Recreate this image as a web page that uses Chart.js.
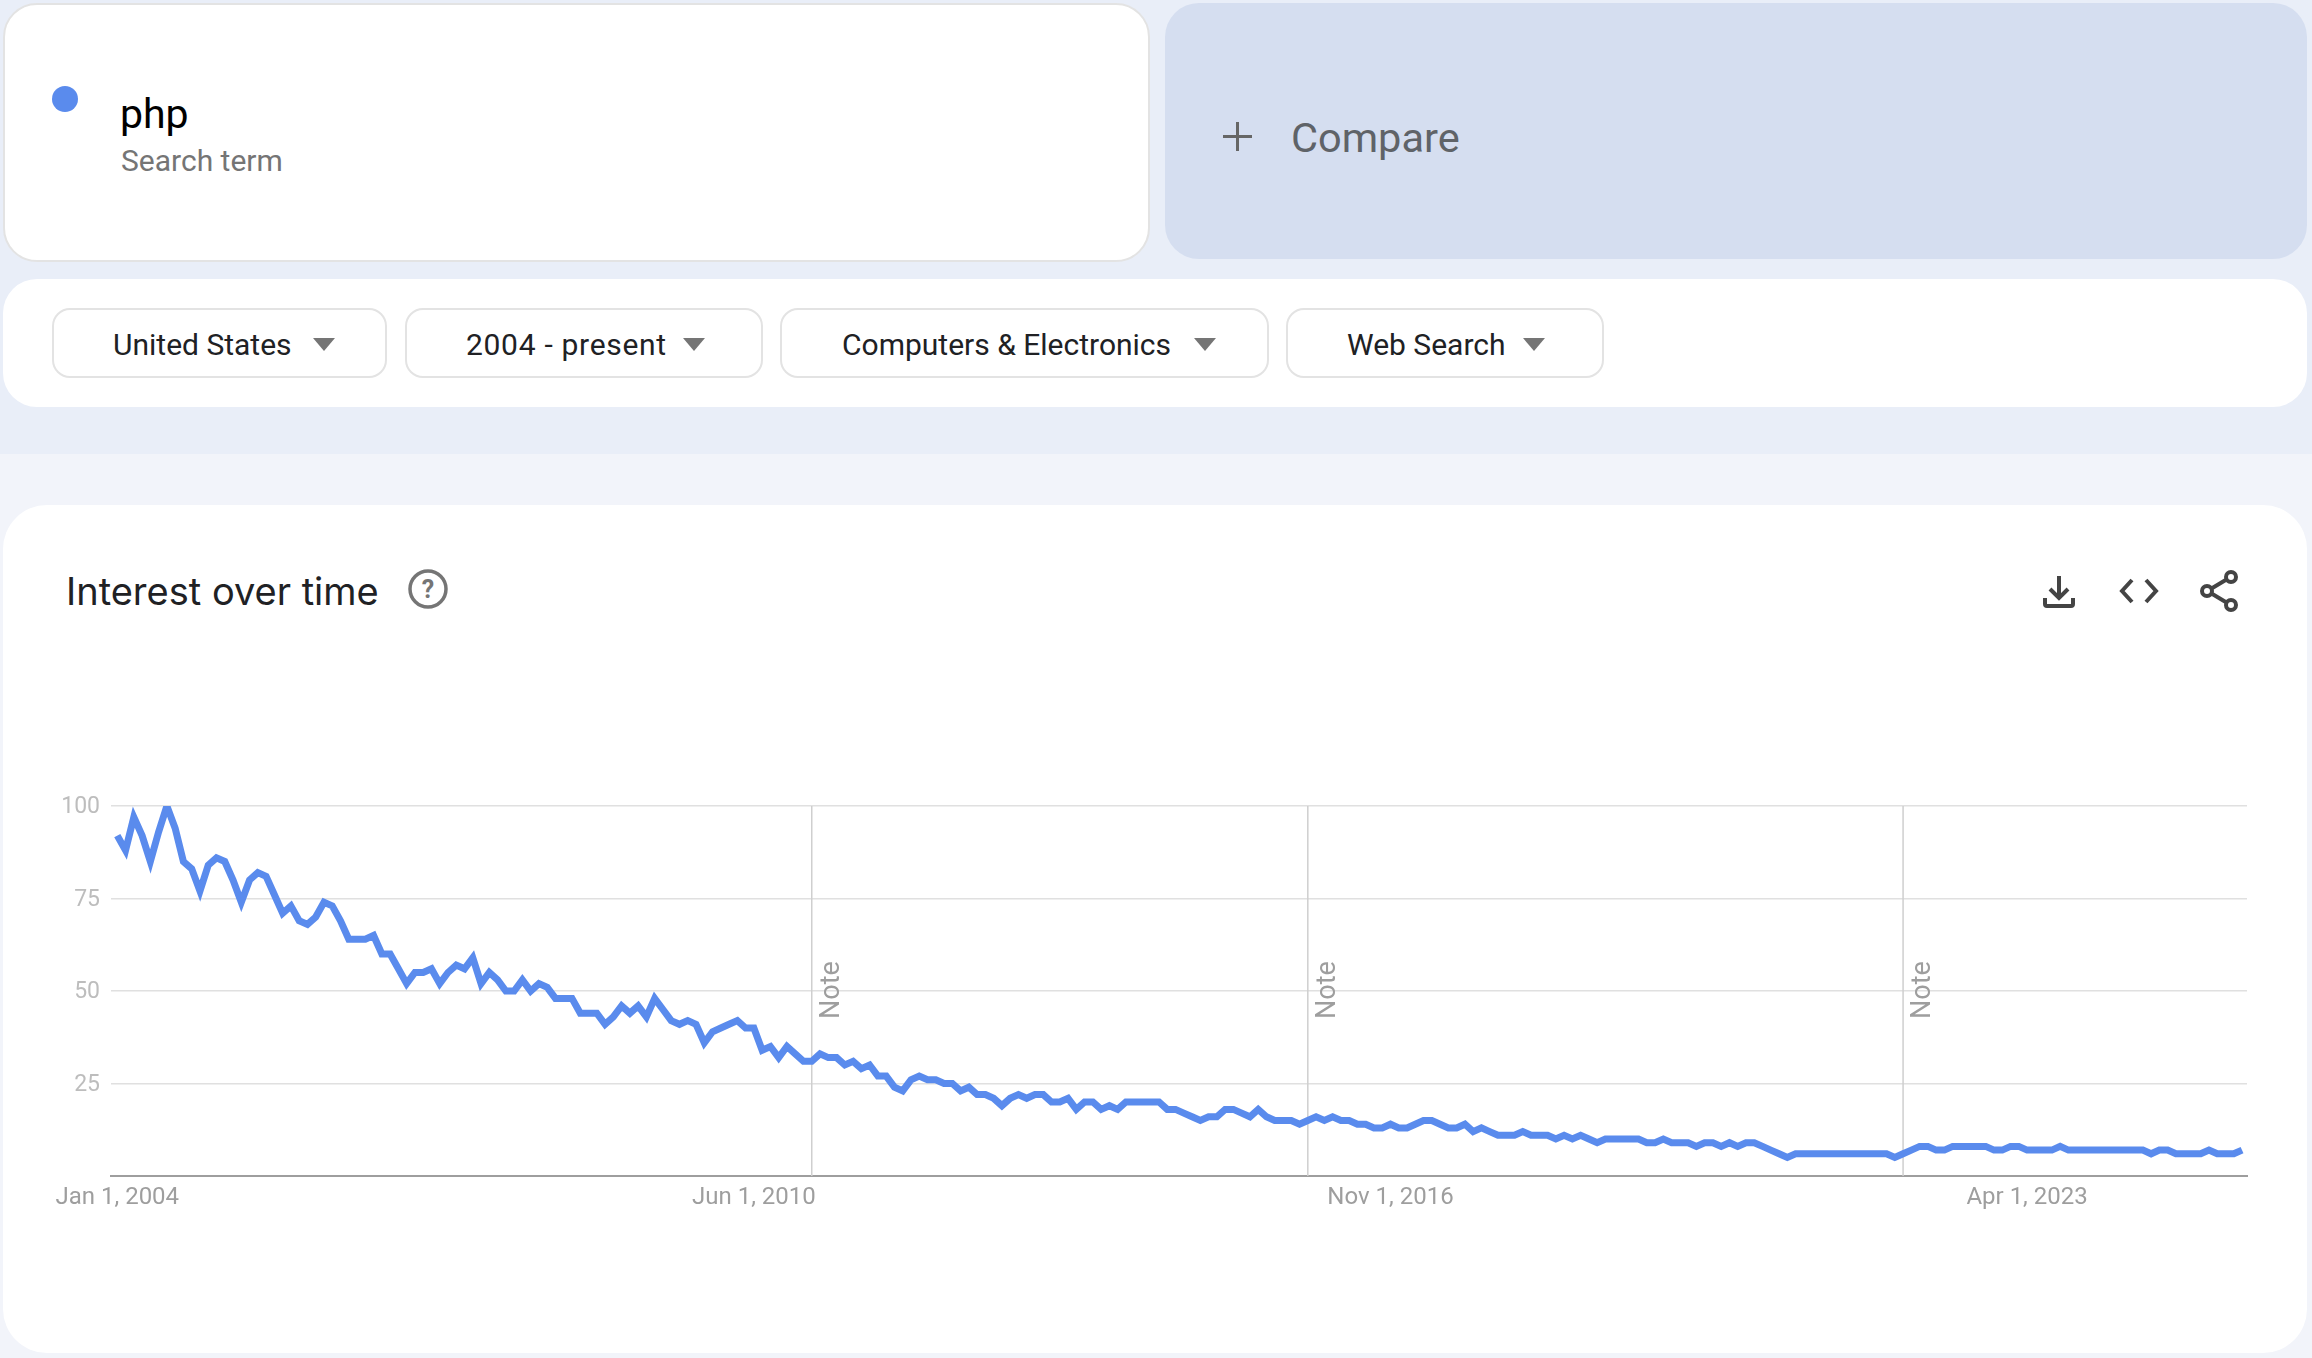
<!DOCTYPE html>
<html>
<head>
<meta charset="utf-8">
<title>php - Interest over time</title>
<script src="https://cdn.jsdelivr.net/npm/chart.js@4"></script>
<style>
  html, body { margin: 0; padding: 0; }
  body { width: 2312px; height: 1358px; position: relative; overflow: hidden; background: #f2f4fa; font-family: Roboto, sans-serif; }
  .top-bg { position: absolute; left: 0; top: 0; width: 2312px; height: 454px; background: #e9eef8; }
  .card { position: absolute; background: #fff; box-sizing: border-box; }
  .abs { position: absolute; white-space: nowrap; line-height: 1; }
  .pill { position: absolute; top: 308px; height: 70px; box-sizing: border-box; background: #fff; border: 2px solid #e3e3e3; border-radius: 18px; }
  .pill span { position: absolute; top: 18px; font-size: 30px; line-height: 34px; color: #202124; white-space: nowrap; }
  .tri { position: absolute; top: 28px; width: 0; height: 0; border-left: 11px solid transparent; border-right: 11px solid transparent; border-top: 13px solid #757575; }
  #chartWrap { position: absolute; left: 0; top: 780px; width: 2312px; height: 440px; }
</style>
</head>
<body>
<div class="top-bg"></div>

<div class="card" style="left:3px;top:3px;width:1147px;height:259px;border-radius:34px;border:2px solid #e3e3e3"></div>
<div class="abs" style="left:52px;top:86px;width:26px;height:26px;border-radius:50%;background:#5a8bed"></div>
<div class="abs" style="left:120px;top:94px;font-size:41px;color:#000">php</div>
<div class="abs" style="left:121px;top:146px;font-size:30px;color:#757575">Search term</div>

<div class="card" style="left:1165px;top:3px;width:1142px;height:256px;border-radius:34px;background:#d5def0"></div>
<div class="abs" style="left:1223px;top:135px;width:29px;height:3px;background:#666"></div>
<div class="abs" style="left:1236px;top:122px;width:3px;height:29px;background:#666"></div>
<div class="abs" style="left:1291px;top:117px;font-size:41.500px;color:#5f6368">Compare</div>

<div class="card" style="left:3px;top:279px;width:2304px;height:128px;border-radius:34px"></div>
<div class="pill" style="left:52px;width:335px"><span style="left:59px">United States</span><div class="tri" style="left:259px"></div></div>
<div class="pill" style="left:405px;width:358px"><span style="left:59px;letter-spacing:0.7px">2004 - present</span><div class="tri" style="left:276px"></div></div>
<div class="pill" style="left:780px;width:489px"><span style="left:60px">Computers &amp; Electronics</span><div class="tri" style="left:412px"></div></div>
<div class="pill" style="left:1286px;width:318px"><span style="left:59px">Web Search</span><div class="tri" style="left:235px"></div></div>

<div class="card" style="left:3px;top:505px;width:2304px;height:848px;border-radius:44px"></div>
<div class="abs" style="left:66px;top:572px;font-size:38px;font-family:Inter;color:#202124">Interest over time</div>
<svg class="abs" style="left:408px;top:569px" width="40" height="40" viewBox="0 0 40 40">
  <circle cx="20" cy="20" r="18" fill="none" stroke="#757575" stroke-width="3.500"/>
  <text x="20" y="29" text-anchor="middle" font-family="Roboto" font-weight="700" font-size="25" fill="#757575">?</text>
</svg>
<svg class="abs" style="left:2040px;top:571px" width="36" height="40" viewBox="0 0 36 40" fill="none" stroke="#444" stroke-width="4">
  <path d="M19 5V26M10 18l9 9 9-9"/>
  <path d="M5 27v6a2 2 0 0 0 2 2H31a2 2 0 0 0 2-2v-6"/>
</svg>
<svg class="abs" style="left:2118px;top:575px" width="42" height="32" viewBox="0 0 42 32" fill="none" stroke="#444" stroke-width="4">
  <path d="M14 5L4 16l10 11M28 5l10 11-10 11"/>
</svg>
<svg class="abs" style="left:2198px;top:568px" width="42" height="46" viewBox="0 0 42 46" fill="none" stroke="#444" stroke-width="4">
  <circle cx="9" cy="23" r="5"/><circle cx="33" cy="9" r="5"/><circle cx="33" cy="37" r="5"/>
  <path d="M13.500 20.500L28.500 11.500M13.500 25.500L28.500 34.500"/>
</svg>

<div id="chartWrap"><canvas id="myChart" width="2312" height="440"></canvas></div>

<script>
const colors = ['#5a8bed', '#e0e0e0', '#cfcfcf', '#9e9e9e', '#bdbdbd'];

// monthly interest, Jan 2004 onwards, one value per month
const interest = [
  92, 88, 97, 92, 85, 93, 100, 94, 85, 83, 77, 84,
  86, 85, 80, 74, 80, 82, 81, 76, 71, 73, 69, 68,
  70, 74, 73, 69, 64, 64, 64, 65, 60, 60, 56, 52,
  55, 55, 56, 52, 55, 57, 56, 59, 52, 55, 53, 50,
  50, 53, 50, 52, 51, 48, 48, 48, 44, 44, 44, 41,
  43, 46, 44, 46, 43, 48, 45, 42, 41, 42, 41, 36,
  39, 40, 41, 42, 40, 40, 34, 35, 32, 35, 33, 31,
  31, 33, 32, 32, 30, 31, 29, 30, 27, 27, 24, 23,
  26, 27, 26, 26, 25, 25, 23, 24, 22, 22, 21, 19,
  21, 22, 21, 22, 22, 20, 20, 21, 18, 20, 20, 18,
  19, 18, 20, 20, 20, 20, 20, 18, 18, 17, 16, 15,
  16, 16, 18, 18, 17, 16, 18, 16, 15, 15, 15, 14,
  15, 16, 15, 16, 15, 15, 14, 14, 13, 13, 14, 13,
  13, 14, 15, 15, 14, 13, 13, 14, 12, 13, 12, 11,
  11, 11, 12, 11, 11, 11, 10, 11, 10, 11, 10, 9,
  10, 10, 10, 10, 10, 9, 9, 10, 9, 9, 9, 8,
  9, 9, 8, 9, 8, 9, 9, 8, 7, 6, 5, 6,
  6, 6, 6, 6, 6, 6, 6, 6, 6, 6, 6, 5,
  6, 7, 8, 8, 7, 7, 8, 8, 8, 8, 8, 7,
  7, 8, 8, 7, 7, 7, 7, 8, 7, 7, 7, 7,
  7, 7, 7, 7, 7, 7, 6, 7, 7, 6, 6, 6,
  6, 7, 6, 6, 6, 7
];

const tickMonths = [0, 77, 154, 231];
const tickLabels = ['Jan 1, 2004', 'Jun 1, 2010', 'Nov 1, 2016', 'Apr 1, 2023'];
const noteMonths = [84, 144, 216];
const yTicks = [0, 25, 50, 75, 100];

// the notes sit behind the line, same as on the trends page
const notesPlugin = {
  id: 'notes',
  beforeDatasetsDraw(chart) {
    const c = chart.ctx, x = chart.scales.x, y = chart.scales.y;
    noteMonths.forEach(function (m) {
      const px = x.getPixelForValue(m);
      c.save();
      c.strokeStyle = colors[2];
      c.lineWidth = 1.5;
      c.beginPath();
      c.moveTo(px, y.getPixelForValue(100));
      c.lineTo(px, y.getPixelForValue(0));
      c.stroke();
      c.translate(px + 20.5, y.getPixelForValue(50) + 28);
      c.rotate(-Math.PI / 2);
      c.fillStyle = colors[3];
      c.font = '27px Roboto';
      c.textAlign = 'left';
      c.textBaseline = 'middle';
      c.fillText('Note', 0, 0);
      c.restore();
    });
  }
};

new Chart(document.getElementById('myChart'), {
  type: 'line',
  plugins: [notesPlugin],
  data: {
    datasets: [{
      label: 'php',
      data: interest.map(function (v, i) { return { x: i, y: v }; }),
      borderColor: colors[0],
      backgroundColor: 'transparent',
      borderWidth: 7,
      pointRadius: 0,
      tension: 0,
      clip: { left: 10, right: 10, top: 0, bottom: 10 }
    }]
  },
  options: {
    responsive: false,
    animation: false,
    layout: { padding: { left: 0, right: 65, top: 26, bottom: 0 } },
    plugins: { legend: { display: false }, tooltip: { enabled: false } },
    scales: {
      x: {
        type: 'linear',
        min: -0.76,
        max: 257.6,
        grid: { display: false },
        border: { color: colors[3], width: 2 },
        afterBuildTicks: function (scale) {
          scale.ticks = tickMonths.map(function (m) { return { value: m }; });
        },
        afterFit: function (scale) { scale.height = 44; },
        ticks: {
          autoSkip: false,
          maxRotation: 0,
          padding: 0,
          color: colors[3],
          font: { family: 'Roboto', size: 24 },
          callback: function (v) { return tickLabels[tickMonths.indexOf(v)]; }
        }
      },
      y: {
        min: yTicks[0],
        max: yTicks[yTicks.length - 1],
        border: { display: false },
        grid: {
          drawTicks: false,
          lineWidth: 1.5,
          color: function (ctx) { return ctx.tick.value === 0 ? 'transparent' : colors[1]; }
        },
        afterFit: function (scale) { scale.width = 111; },
        ticks: {
          stepSize: 25,
          padding: 11,
          labelOffset: 1.5,
          color: colors[4],
          font: { family: 'Roboto', size: 23 },
          callback: function (v) { return v === 0 ? '' : v; }
        }
      }
    }
  }
});
</script>
</body>
</html>
